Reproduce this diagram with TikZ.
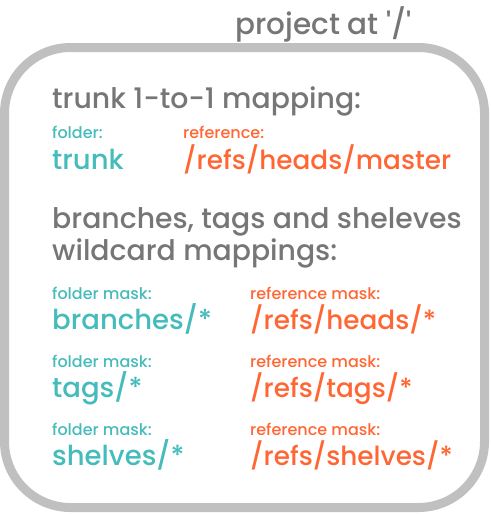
\documentclass[tikz,border=0pt]{standalone}
\usepackage{fontspec}
\setmainfont{Poppins Medium}
\definecolor{framegray}{HTML}{C0C0C0}
\definecolor{headgray}{HTML}{767676}
\definecolor{folderteal}{HTML}{45BBBB}
\definecolor{reforange}{HTML}{FF6633}
\tikzset{
  txt/.style={anchor=base west, inner sep=0pt},
  heading/.style={txt, text=headgray, font=\fontsize{28.3}{30}\selectfont},
  caption/.style={txt, font=\fontsize{16}{17}\selectfont},
  fold/.style={txt, text=folderteal, font=\fontsize{27.5}{31}\selectfont},
  refc/.style={txt, text=reforange, font=\fontsize{26.3}{31}\selectfont},
}
\begin{document}
\begin{tikzpicture}[x=1pt,y=-1pt]
  \useasboundingbox (0,0) rectangle (490,514);
  % frame of the project
  \draw[framegray, line width=9pt, rounded corners=66pt]
    (4.5,47.5) rectangle (484.5,507.5);
  \node[heading, font=\fontsize{29.5}{30}\selectfont] (title) at (235,34)
    {project at \textquotesingle/\textquotesingle};

  % trunk mapping
  \node[heading] (h1) at (52,108) {trunk 1-to-1 mapping:};
  \node[caption, text=folderteal] (c1a) at (52,138) {folder:};
  \node[caption, text=reforange] (c1b) at (183,138) {reference:};
  \node[fold] (v1a) at (52,169) {trunk};
  \node[refc] (v1b) at (183,169) {/refs/heads/master};

  % wildcard mappings
  \node[heading] (h2) at (52,228) {branches, tags and sheleves};
  \node[heading] (h3) at (52,260) {wildcard mappings:};

  \node[caption, text=folderteal] (c2a) at (52,299) {folder mask:};
  \node[caption, text=reforange] (c2b) at (250,299) {reference mask:};
  \node[fold] (v2a) at (52,329) {branches/*};
  \node[refc] (v2b) at (250,329) {/refs/heads/*};

  \node[caption, text=folderteal] (c3a) at (52,367) {folder mask:};
  \node[caption, text=reforange] (c3b) at (250,367) {reference mask:};
  \node[fold] (v3a) at (52,397) {tags/*};
  \node[refc] (v3b) at (250,397) {/refs/tags/*};

  \node[caption, text=folderteal] (c4a) at (52,435) {folder mask:};
  \node[caption, text=reforange] (c4b) at (250,435) {reference mask:};
  \node[fold] (v4a) at (52,465) {shelves/*};
  \node[refc] (v4b) at (250,465) {/refs/shelves/*};
\end{tikzpicture}
\end{document}
